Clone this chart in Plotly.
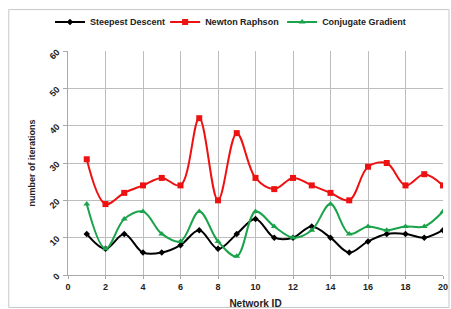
import plotly.graph_objects as go

network_id = list(range(1, 21))
steepest = [11, 7, 11, 6, 6, 8, 12, 7, 11, 15, 10, 10, 13, 10, 6, 9, 11, 11, 10, 12]
newton = [31, 19, 22, 24, 26, 24, 42, 20, 38, 26, 23, 26, 24, 22, 20, 29, 30, 24, 27, 24]
conjugate = [19, 7, 15, 17, 11, 9, 17, 9, 5, 17, 13, 10, 12, 19, 11, 13, 12, 13, 13, 17]

fig = go.Figure()
series = [
    ("Steepest Descent", steepest, "#000000", "diamond", 5, "legend"),
    ("Newton Raphson", newton, "#ee1111", "square", 6, "legend2"),
    ("Conjugate Gradient", conjugate, "#1aa34a", "triangle-up", 6, "legend3"),
]
for name, vals, col, sym, sz, lg in series:
    fig.add_trace(go.Scatter(
        x=network_id, y=vals, name="<b>" + name + "</b>", mode="lines+markers",
        line=dict(color=col, width=2, shape="spline", smoothing=1),
        marker=dict(color=col, symbol=sym, size=sz), legend=lg,
    ))

fig.add_shape(type="rect", xref="paper", yref="paper",
              x0=-0.158, x1=1.016, y0=-0.145, y1=1.185,
              line=dict(color="#c8c8c8", width=1), layer="below")

font_b = "Liberation Sans"
leg_common = dict(orientation="h", xanchor="left", y=1.13, yanchor="middle",
                  font=dict(family=font_b, size=9, color="#222"),
                  itemwidth=30, bgcolor="rgba(0,0,0,0)")
fig.update_layout(
    width=451, height=309,
    margin=dict(l=68, r=8, t=51, b=34, autoexpand=False),
    paper_bgcolor="white", plot_bgcolor="white",
    showlegend=True,
    legend=dict(x=-0.048, **leg_common),
    legend2=dict(x=0.259, **leg_common),
    legend3=dict(x=0.571, **leg_common),
    xaxis=dict(range=[0, 20], dtick=2, tick0=0, showgrid=True, gridcolor="#bdbdbd", gridwidth=1,
               showline=True, linecolor="#a8a8a8", ticks="outside", ticklen=3, tickcolor="#a8a8a8",
               zeroline=False, automargin=False,
               tickfont=dict(family=font_b, size=9, color="#222"),
               title=dict(text="<b>Network ID</b>", font=dict(family=font_b, size=10, color="#222"), standoff=12)),
    yaxis=dict(range=[0, 60], dtick=10, showgrid=True, gridcolor="#bdbdbd", gridwidth=1,
               showline=True, linecolor="#a8a8a8", ticks="outside", ticklen=4, tickcolor="#a8a8a8",
               zeroline=False, tickangle=-45, automargin=False, ticklabelstandoff=4,
               tickfont=dict(family=font_b, size=9, color="#222"),
               title=dict(text="<b>number of iterations</b>", font=dict(family=font_b, size=9, color="#222"), standoff=10)),
)
fig.update_xaxes(tickprefix="<b>", ticksuffix="</b>")
fig.update_yaxes(tickprefix="<b>", ticksuffix="</b>")

fig.write_html("out.html", post_script="document.body.style.margin='0';",
               config={"displayModeBar": False})
